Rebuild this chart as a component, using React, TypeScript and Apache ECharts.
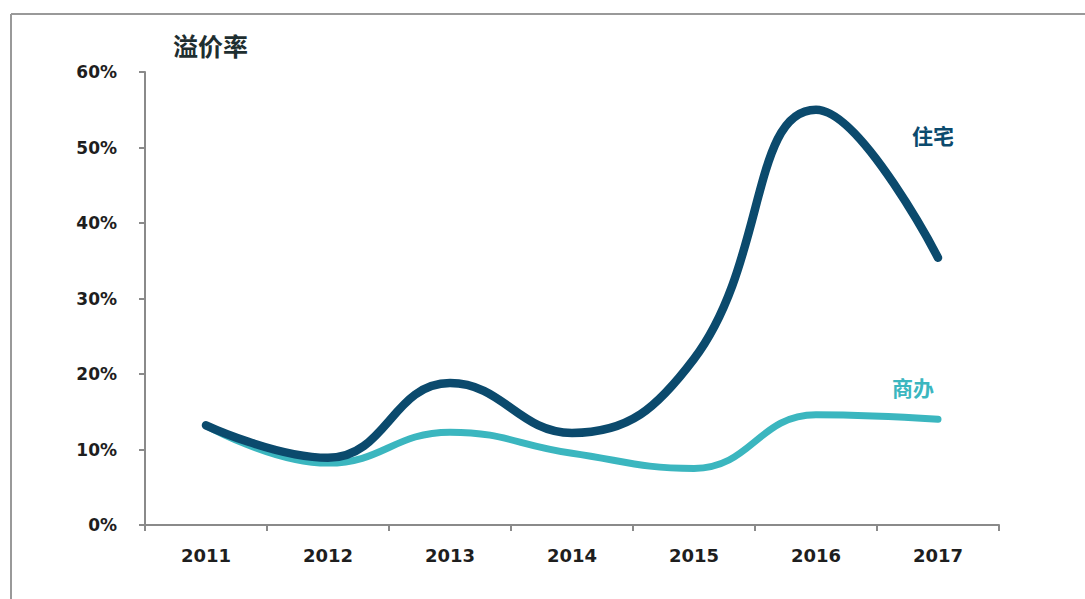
import React, { useEffect, useRef } from "react";
import * as echarts from "echarts";

const years = ["2011", "2012", "2013", "2014", "2015", "2016", "2017"];
const residential = [13.2, 8.9, 18.8, 12.2, 22, 55, 35.4];
const commercial = [13.2, 8.2, 12.3, 9.5, 7.5, 14.6, 14];
const yTicks = [0, 10, 20, 30, 40, 50, 60];

const DARK = "#0b4a6d";
const TEAL = "#3bb6bf";
const FONT = "'DejaVu Sans', Verdana, sans-serif";

export default function App() {
  const ref = useRef<HTMLDivElement>(null);
  useEffect(() => {
    if (!ref.current) return;
    const chart = echarts.init(ref.current, undefined, { renderer: "svg" });
    chart.setOption({
      animation: false,
      backgroundColor: "#ffffff",
      grid: { left: 145, right: 86, top: 72, bottom: 74 },
      xAxis: {
        type: "category",
        data: years,
        boundaryGap: true,
        axisLine: { lineStyle: { color: "#8a8a8a", width: 2 } },
        axisTick: { show: true, length: 6, lineStyle: { color: "#8a8a8a", width: 2 } },
        axisLabel: { color: "#1e1e1e", fontSize: 18, fontWeight: "bold", fontFamily: FONT, margin: 21 },
      },
      yAxis: {
        type: "value",
        min: yTicks[0],
        max: yTicks[yTicks.length - 1],
        interval: 10,
        axisLine: { show: true, lineStyle: { color: "#8a8a8a", width: 2 } },
        axisTick: { show: true, length: 6, lineStyle: { color: "#8a8a8a", width: 2 } },
        splitLine: { show: false },
        axisLabel: {
          color: "#1e1e1e",
          fontSize: 17,
          fontWeight: "bold",
          fontFamily: FONT,
          margin: 28,
          formatter: (v: number) => v + "%",
        },
      },
      series: [
        {
          name: "商办",
          type: "line",
          data: commercial,
          smooth: 0.45,
          showSymbol: false,
          lineStyle: { color: TEAL, width: 7, cap: "round" },
          z: 2,
        },
        {
          name: "住宅",
          type: "line",
          data: residential,
          smooth: 0.45,
          showSymbol: false,
          lineStyle: { color: DARK, width: 8.5, cap: "round" },
          z: 3,
        },
      ],
      graphic: [
        { type: "line", shape: { x1: 11, y1: 14, x2: 1085, y2: 14 }, style: { stroke: "#999", lineWidth: 2 } },
        { type: "line", shape: { x1: 11, y1: 14, x2: 11, y2: 599 }, style: { stroke: "#999", lineWidth: 2 } },
        {
          type: "text",
          x: 173,
          y: 32,
          style: { text: "溢价率", fill: "#1e2e30", font: "bold 25px 'Noto Sans CJK SC', sans-serif" },
        },
        {
          type: "text",
          x: 912,
          y: 124,
          style: { text: "住宅", fill: DARK, font: "bold 21px 'Noto Sans CJK SC', sans-serif" },
        },
        {
          type: "text",
          x: 892,
          y: 376,
          style: { text: "商办", fill: TEAL, font: "bold 21px 'Noto Sans CJK SC', sans-serif" },
        },
      ],
    });
    return () => chart.dispose();
  }, []);
  return (
    <div
      ref={ref}
      style={{ position: "fixed", left: 0, top: 0, width: 1085, height: 599 }}
    />
  );
}
